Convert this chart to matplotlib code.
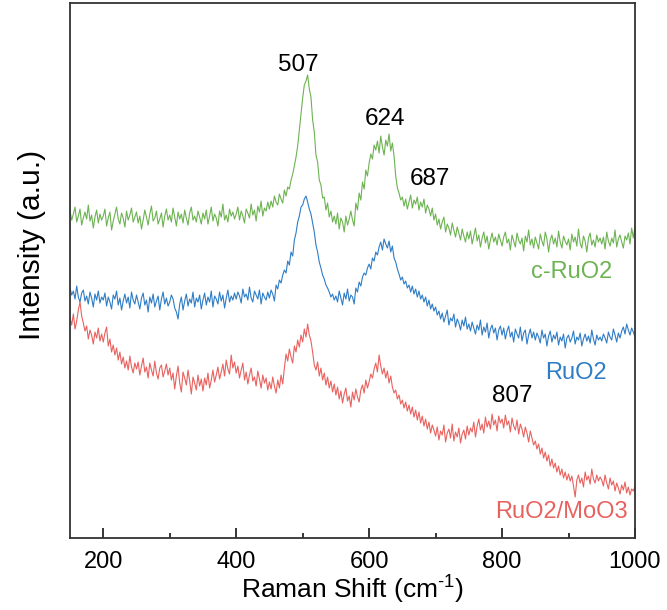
import numpy as np
import matplotlib
matplotlib.use("Agg")
import matplotlib.pyplot as plt
from matplotlib.ticker import MultipleLocator

plt.rcParams['font.family'] = ['Liberation Sans', 'DejaVu Sans']
plt.rcParams['mathtext.fontset'] = 'custom'
plt.rcParams['mathtext.rm'] = 'Liberation Sans'
plt.rcParams['mathtext.it'] = 'Liberation Sans'

# Raman shift grid (cm-1), 2.5 cm-1 steps
shift = np.arange(150, 1000.1, 2.5)

# stacked spectra, offsets already included (a.u.), one row = 50 cm-1
c_ruo2 = [
    327, 318, 324, 331, 316, 322, 329, 313, 320, 326, 319, 333, 317, 323, 310, 321, 328, 315, 324, 318,
    322, 329, 312, 320, 326, 308, 317, 324, 331, 319, 314, 325, 320, 311, 327, 318, 323, 330, 316, 321,
    326, 315, 322, 309, 318, 328, 321, 313, 324, 332, 317, 320, 327, 314, 319, 325, 311, 322, 329, 318,
    323, 316, 330, 321, 312, 326, 319, 324, 315, 328, 320, 313, 325, 331, 318, 322, 316, 327, 321, 314,
    325, 319, 328, 314, 322, 331, 317, 324, 320, 312, 327, 321, 334, 318, 323, 316, 329, 322, 326, 319,
    324, 331, 318, 327, 322, 315, 329, 325, 320, 334, 323, 328, 317, 332, 326, 337, 322, 330, 327, 336,
    329, 337, 331, 342, 336, 333, 344, 339, 335, 348, 342, 351, 349, 358, 364, 372, 381, 392, 408, 425,
    440, 453, 457, 463, 449, 441, 418, 406, 383, 376, 358, 353, 340, 341, 328, 335, 321, 327, 316, 322,
    314, 325, 309, 320, 316, 306, 322, 313, 319, 327, 318, 312, 335, 328, 345, 338, 356, 349, 368, 362,
    375, 384, 379, 393, 388, 397, 385, 402, 391, 383, 398, 392, 404, 387, 395, 382, 362, 350, 345, 338,
    341, 332, 339, 329, 336, 343, 330, 338, 334, 341, 328, 336, 331, 339, 325, 333, 329, 322, 330, 318,
    324, 313, 319, 309, 316, 321, 306, 314, 310, 303, 315, 308, 301, 311, 305, 298, 309, 302, 296, 306,
    299, 307, 294, 302, 310, 297, 303, 291, 300, 306, 295, 302, 289, 298, 305, 296, 301, 293, 304, 298,
    292, 301, 306, 295, 299, 288, 303, 297, 291, 305, 298, 294, 300, 287, 302, 296, 308, 293, 299, 290,
    301, 295, 289, 304, 297, 292, 306, 299, 286, 298, 303, 294, 300, 291, 307, 296, 290, 302, 297, 293,
    299, 288, 304, 296, 301, 292, 309, 295, 290, 302, 297, 286, 300, 305, 293, 298, 291, 303, 296, 300,
    294, 301, 289, 306, 297, 292, 300, 295, 308, 291, 299, 303, 296, 290, 302, 298, 305, 294, 310, 300,
    312,
]
ruo2 = [
    250, 243, 247, 239, 252, 241, 236, 245, 248, 237, 242, 234, 246, 240, 231, 244, 238, 247, 235, 241,
    238, 245, 232, 241, 236, 229, 243, 239, 247, 233, 240, 228, 237, 244, 235, 241, 230, 246, 238, 234,
    243, 236, 229, 240, 245, 233, 238, 226, 241, 235, 244, 231, 237, 242, 228, 239, 246, 234, 240, 232,
    236, 243, 239, 230, 226, 219, 234, 241, 228, 237, 244, 232, 239, 235, 246, 231, 240, 236, 243, 229,
    238, 245, 233, 241, 236, 247, 231, 242, 239, 234, 246, 237, 243, 230, 240, 248, 236, 242, 238, 245,
    239, 246, 242, 235, 249, 241, 244, 238, 251, 240, 236, 247, 243, 239, 248, 234, 245, 241, 238, 246,
    240, 248, 244, 237, 253, 249, 258, 255, 263, 268, 265, 277, 273, 286, 282, 298, 305, 316, 322, 331,
    333, 339, 342, 336, 329, 324, 315, 306, 293, 286, 276, 270, 263, 259, 253, 250, 246, 241, 244, 238,
    242, 236, 247, 240, 233, 245, 239, 249, 237, 243, 241, 234, 250, 246, 256, 252, 261, 265, 263, 270,
    274, 269, 280, 277, 286, 283, 291, 296, 288, 299, 294, 290, 297, 286, 292, 280, 276, 269, 264, 258,
    261, 254, 257, 250, 253, 246, 252, 244, 249, 241, 247, 239, 243, 236, 241, 232, 238, 229, 234, 227,
    231, 223, 227, 219, 225, 216, 222, 228, 213, 220, 217, 224, 211, 219, 215, 208, 218, 212, 221, 209,
    214, 207, 216, 210, 204, 213, 208, 218, 203, 211, 206, 215, 200, 209, 213, 205, 210, 198, 208, 212,
    203, 210, 199, 207, 212, 201, 206, 196, 209, 204, 200, 211, 197, 205, 208, 194, 203, 209, 200, 206,
    198, 205, 201, 195, 208, 200, 204, 192, 202, 207, 196, 203, 199, 206, 193, 201, 197, 204, 190, 200,
    203, 196, 200, 207, 194, 201, 198, 205, 192, 199, 204, 197, 202, 195, 208, 199, 193, 203, 198, 201,
    197, 204, 200, 195, 206, 201, 198, 209, 203, 196, 205, 200, 207, 211, 204, 214, 208, 203, 210, 206,
    201,
]
ruo2_moo3 = [
    220, 213, 224, 209, 217, 228, 236, 222, 215, 207, 212, 199, 208, 203, 194, 206, 200, 210, 197, 204,
    196, 205, 211, 192, 199, 186, 193, 183, 190, 178, 186, 174, 181, 170, 177, 168, 182, 171, 165, 175,
    169, 176, 163, 172, 180, 166, 171, 160, 175, 168, 162, 177, 165, 159, 170, 173, 161, 167, 174, 163,
    170, 158, 165, 149, 162, 172, 155, 146, 166, 160, 153, 168, 157, 144, 161, 155, 148, 163, 152, 159,
    147, 160, 153, 165, 150, 158, 168, 156, 163, 171, 159, 166, 174, 162, 178, 169, 164, 183, 170, 176,
    165, 172, 160, 168, 175, 158, 166, 154, 163, 170, 157, 161, 152, 167, 159, 150, 163, 155, 160, 148,
    156, 149, 161, 152, 145, 158, 150, 163, 154, 170, 184, 177, 189, 181, 175, 192, 186, 198, 191, 203,
    196, 209, 201, 214, 203, 197, 186, 173, 168, 176, 162, 170, 158, 165, 153, 161, 150, 157, 146, 154,
    143, 151, 139, 147, 135, 144, 150, 137, 142, 131, 146, 138, 149, 141, 136, 148, 153, 145, 158, 150,
    156, 164, 160, 169, 175, 166, 183, 172, 164, 170, 160, 167, 155, 162, 151, 145, 148, 139, 143, 134,
    138, 130, 136, 127, 133, 124, 131, 121, 128, 118, 126, 115, 122, 112, 119, 109, 116, 105, 113, 108,
    102, 111, 98, 107, 103, 113, 96, 105, 109, 100, 114, 97, 106, 101, 110, 95, 104, 108, 99, 112,
    103, 110, 106, 116, 101, 112, 119, 108, 114, 105, 121, 111, 117, 109, 124, 113, 118, 107, 122, 115,
    119, 110, 123, 113, 117, 106, 120, 112, 108, 118, 104, 114, 109, 101, 111, 105, 96, 107, 100, 93,
    97, 89, 94, 84, 90, 80, 86, 77, 83, 72, 79, 70, 75, 66, 72, 63, 69, 60, 66, 58,
    64, 57, 62, 52, 41, 58, 63, 55, 60, 51, 66, 58, 62, 54, 69, 59, 55, 63, 57, 61,
    58, 52, 63, 55, 49, 60, 53, 57, 47, 55, 50, 44, 53, 48, 56, 45, 51, 43, 49, 47,
    52,
]

labels = ["c-RuO2", "RuO2", "RuO2/MoO3"]
colors = ["#6db352", "#2f7dc6", "#e8625f"]
peaks = [507, 624, 687, 807]

fig = plt.figure(figsize=(6.67, 6.10), dpi=100)
ax = fig.add_axes([0.105, 0.118, 0.847, 0.877])

for y, c in zip([c_ruo2, ruo2, ruo2_moo3], colors):
    ax.plot(shift, y, color=c, lw=0.8)

# peak positions written above the bands
ax.text(493, 467, str(peaks[0]), ha='center', va='baseline', fontsize=17.5)
ax.text(624, 413, str(peaks[1]), ha='center', va='baseline', fontsize=17.5)
ax.text(692, 353, str(peaks[2]), ha='center', va='baseline', fontsize=17.5)
ax.text(815, 136, str(peaks[3]), ha='center', va='baseline', fontsize=17.5)

# sample names
ax.text(966, 260, labels[0], ha='right', va='baseline', fontsize=17, color=colors[0])
ax.text(957, 159, labels[1], ha='right', va='baseline', fontsize=17, color=colors[1])
ax.text(989, 20, labels[2], ha='right', va='baseline', fontsize=17, color=colors[2])

ax.set_xlim(150, 1000)
ax.set_ylim(0, 535)
ax.xaxis.set_major_locator(MultipleLocator(200))
ax.xaxis.set_minor_locator(MultipleLocator(100))
ax.tick_params(axis='x', which='major', direction='in', length=7, width=1.1,
               labelsize=17, pad=9, top=False)
ax.tick_params(axis='x', which='minor', direction='in', length=3.5, width=1.1, top=False)
ax.set_yticks([])
for s in ax.spines.values():
    s.set_linewidth(1.3)
    s.set_color('#333333')

ax.set_xlabel(r'Raman Shift (cm$^{\text{-}1}$)', fontsize=19, labelpad=1)
ax.set_ylabel('Intensity (a.u.)', fontsize=21.5)
ax.yaxis.set_label_coords(-0.042, 0.548)

fig.savefig("out.png", dpi=100)
